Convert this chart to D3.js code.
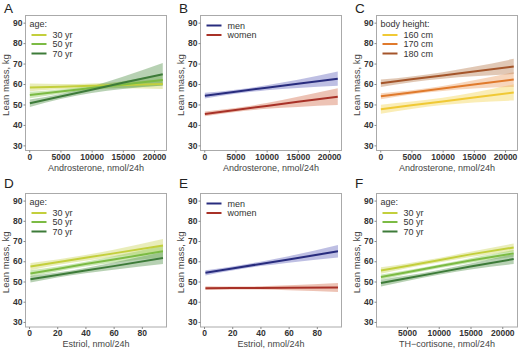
<!DOCTYPE html>
<html>
<head>
<meta charset="utf-8">
<script src="https://cdn.jsdelivr.net/npm/d3@7"></script>
<style>
  body { margin: 0; background: #fff; }
  svg { display: block; font-family: "Liberation Sans", Arial, sans-serif; }
</style>
</head>
<body>
<div id="chart"></div>
<script>
// Lean mass vs urinary steroids - six small panels (A-F)

const yTicks = [30, 40, 50, 60, 70, 80, 90];
const androTicks = [0, 5000, 10000, 15000, 20000];
const estriolTicks = [0, 20, 40, 60, 80];
const cortTicks = [5000, 10000, 15000, 20000];

const ageLabels = ["30 yr", "50 yr", "70 yr"];
const sexLabels = ["men", "women"];
const heightLabels = ["160 cm", "170 cm", "180 cm"];

// x positions where fit and band were read
const andrX = [100, 5000, 10000, 15000, 21400];
const estriolX = [1, 20, 40, 60, 95];
const cortX = [900, 5000, 10000, 15000, 21800];

// A: androsterone by age
const aFit = [[58.3, 58.7, 59.1, 59.5, 60.0], [54.6, 56.3, 58.1, 59.8, 62.0], [50.6, 53.9, 57.2, 60.6, 64.8]];
const aLo  = [[56.5, 57.4, 57.9, 57.9, 57.6], [53.0, 55.3, 57.1, 58.2, 59.2], [48.8, 52.7, 55.6, 57.6, 59.3]];
const aHi  = [[60.2, 60.0, 60.3, 61.1, 62.3], [56.2, 57.3, 59.1, 61.4, 64.8], [52.4, 55.1, 58.8, 63.6, 70.3]];

// B: androsterone by sex
const bFit = [[54.3, 56.2, 58.2, 60.1, 62.6], [45.4, 47.3, 49.3, 51.3, 53.8]];
const bLo  = [[52.9, 55.2, 57.0, 58.1, 59.1], [44.2, 46.3, 47.9, 48.8, 49.7]];
const bHi  = [[55.7, 57.2, 59.4, 62.1, 66.1], [46.6, 48.3, 50.7, 53.8, 57.9]];

// C: androsterone by body height
const cFit = [[47.7, 49.6, 51.5, 53.4, 55.9], [54.0, 55.9, 57.8, 59.8, 62.2], [60.4, 62.3, 64.2, 66.1, 68.6]];
const cLo  = [[45.5, 47.8, 49.7, 51.0, 51.9], [52.5, 54.9, 56.6, 57.8, 58.6], [58.6, 60.9, 62.6, 63.8, 64.9]];
const cHi  = [[49.9, 51.4, 53.3, 55.8, 59.9], [55.5, 56.9, 59.0, 61.8, 65.8], [62.2, 63.7, 65.8, 68.4, 72.3]];

// D: estriol by age
const dFit = [[57.4, 59.5, 61.7, 63.9, 67.8], [54.0, 56.2, 58.6, 60.9, 64.9], [51.1, 53.2, 55.4, 57.6, 61.6]];
const dLo  = [[55.6, 58.1, 60.3, 62.1, 64.6], [52.4, 55.0, 57.4, 59.3, 62.0], [49.5, 52.0, 54.1, 55.8, 58.6]];
const dHi  = [[59.2, 60.9, 63.1, 65.7, 71.0], [55.6, 57.4, 59.8, 62.5, 67.8], [52.7, 54.4, 56.7, 59.4, 64.6]];

// E: estriol by sex
const eFit = [[54.3, 56.4, 58.7, 60.9, 64.9], [46.7, 46.8, 46.8, 46.9, 47.0]];
const eLo  = [[53.0, 55.4, 57.6, 59.3, 61.8], [45.8, 46.1, 46.0, 45.7, 44.8]];
const eHi  = [[55.6, 57.4, 59.8, 62.5, 68.0], [47.6, 47.5, 47.6, 48.1, 49.2]];

// F: TH-cortisone by age
const fFit = [[55.4, 57.7, 60.5, 63.4, 66.8], [52.2, 54.6, 57.5, 60.4, 63.9], [49.2, 51.6, 54.5, 57.4, 61.1]];
const fLo  = [[53.8, 56.5, 59.4, 62.1, 64.8], [50.9, 53.6, 56.6, 59.3, 62.2], [47.5, 50.3, 53.3, 55.9, 58.6]];
const fHi  = [[57.0, 58.9, 61.6, 64.7, 68.8], [53.5, 55.6, 58.4, 61.5, 65.6], [50.9, 52.9, 55.7, 58.9, 63.6]];

const ageColors = ["#c3cf3c", "#7cbb44", "#3d7b39"];
const ageBands = ["#cfd866", "#92cc62", "#5f9a56"];
const sexColors = ["#282c7e", "#a83127"];
const sexBands = ["#6e71c2", "#d8795a"];
const heightColors = ["#f0c935", "#e07a2c", "#a4552a"];
const heightBands = ["#f5d65e", "#eda36a", "#bd845a"];

const W = 520, H = 349;
const pw = 141;
const colX = [25.5, 200.5, 376.5];
const rowY = [15.5, 193.5];
const rowH = [135, 133.5];
const letterY = [12.5, 187.5];
const yDomain = [27.5, 93.5];

const svg = d3.select("#chart").append("svg")
    .attr("width", W)
    .attr("height", H);

const panels = [
  {letter: "A", col: 0, row: 0, xs: andrX, xDom: [-600, 22000], ticks: androTicks, title: "Androsterone, nmol/24h",
   fit: aFit, lo: aLo, hi: aHi, labels: ageLabels, colors: ageColors, bands: ageBands, legendTitle: "age:"},
  {letter: "B", col: 1, row: 0, xs: andrX, xDom: [-600, 22000], ticks: androTicks, title: "Androsterone, nmol/24h",
   fit: bFit, lo: bLo, hi: bHi, labels: sexLabels, colors: sexColors, bands: sexBands, legendTitle: null},
  {letter: "C", col: 2, row: 0, xs: andrX, xDom: [-600, 22000], ticks: androTicks, title: "Androsterone, nmol/24h",
   fit: cFit, lo: cLo, hi: cHi, labels: heightLabels, colors: heightColors, bands: heightBands, legendTitle: "body height:"},
  {letter: "D", col: 0, row: 1, xs: estriolX, xDom: [-2.5, 97.5], ticks: estriolTicks, title: "Estriol, nmol/24h",
   fit: dFit, lo: dLo, hi: dHi, labels: ageLabels, colors: ageColors, bands: ageBands, legendTitle: "age:"},
  {letter: "E", col: 1, row: 1, xs: estriolX, xDom: [-2.5, 97.5], ticks: estriolTicks, title: "Estriol, nmol/24h",
   fit: eFit, lo: eLo, hi: eHi, labels: sexLabels, colors: sexColors, bands: sexBands, legendTitle: null},
  {letter: "F", col: 2, row: 1, xs: cortX, xDom: [200, 22400], ticks: cortTicks, title: "TH\u2212cortisone, nmol/24h",
   fit: fFit, lo: fLo, hi: fHi, labels: ageLabels, colors: ageColors, bands: ageBands, legendTitle: "age:"}
];

panels.forEach(p => {
  const x0 = colX[p.col], y0 = rowY[p.row];
  const ph = rowH[p.row];

  const x = d3.scaleLinear().domain(p.xDom).range([0, pw]);
  const y = d3.scaleLinear().domain(yDomain).range([ph, 0]);

  const g = svg.append("g").attr("transform", `translate(${x0}, ${y0})`);

  // panel letter
  svg.append("text")
      .attr("x", x0 - 21.5)
      .attr("y", letterY[p.row])
      .attr("font-size", 13.5)
      .attr("fill", "#222")
      .text(p.letter);

  // confidence bands
  p.bands.forEach((c, i) => {
    const pts = p.xs.map((xv, k) => ({x: xv, lo: p.lo[i][k], hi: p.hi[i][k]}));
    g.append("path")
        .datum(pts)
        .attr("fill", c)
        .attr("fill-opacity", 0.45)
        .attr("d", d3.area()
            .x(d => x(d.x))
            .y0(d => y(d.lo))
            .y1(d => y(d.hi))
            .curve(d3.curveMonotoneX));
  });

  // fitted lines
  p.colors.forEach((c, i) => {
    const pts = p.xs.map((xv, k) => ({x: xv, v: p.fit[i][k]}));
    g.append("path")
        .datum(pts)
        .attr("fill", "none")
        .attr("stroke", c)
        .attr("stroke-width", 2)
        .attr("d", d3.line().x(d => x(d.x)).y(d => y(d.v)));
  });

  // frame
  g.append("rect")
      .attr("width", pw)
      .attr("height", ph)
      .attr("fill", "none")
      .attr("stroke", "#aaa")
      .attr("stroke-width", 1);

  const yAxis = g.append("g")
      .call(d3.axisLeft(y).tickValues(yTicks).tickSize(2).tickPadding(1));
  const xAxis = g.append("g")
      .attr("transform", `translate(0, ${ph})`)
      .call(d3.axisBottom(x).tickValues(p.ticks).tickSize(2).tickPadding(1).tickFormat(d3.format("d")));

  [yAxis, xAxis].forEach(a => {
    a.select(".domain").remove();
    a.selectAll(".tick line").attr("stroke", "#888");
    a.selectAll(".tick text")
        .attr("font-size", 8.5)
        .attr("font-weight", "bold")
        .attr("fill", "#333")
        .attr("font-family", "\"Liberation Sans\", Arial, sans-serif");
  });

  // axis titles
  g.append("text")
      .attr("x", pw / 2)
      .attr("y", ph + 20)
      .attr("text-anchor", "middle")
      .attr("font-size", 9)
      .attr("fill", "#444")
      .text(p.title);

  g.append("text")
      .attr("transform", `translate(-17, ${ph / 2 + 2}) rotate(-90)`)
      .attr("text-anchor", "middle")
      .attr("font-size", 9.5)
      .attr("fill", "#444")
      .text("Lean mass, kg");

  // legend
  const lg = g.append("g").attr("transform", "translate(5, 0)");
  let offs;
  if (p.legendTitle) {
    lg.append("text")
        .attr("x", -1)
        .attr("y", 11.5)
        .attr("font-size", 9)
        .attr("fill", "#333")
        .text(p.legendTitle);
    offs = [19.5, 28.5, 38];
  } else {
    offs = [10, 19.5];
  }
  p.labels.forEach((lab, i) => {
    lg.append("line")
        .attr("x1", 1).attr("x2", 16)
        .attr("y1", offs[i]).attr("y2", offs[i])
        .attr("stroke", p.colors[i])
        .attr("stroke-width", 2);
    lg.append("text")
        .attr("x", 22)
        .attr("y", offs[i] + 3)
        .attr("font-size", 9)
        .attr("fill", "#333")
        .text(lab);
  });
});
</script>
</body>
</html>
